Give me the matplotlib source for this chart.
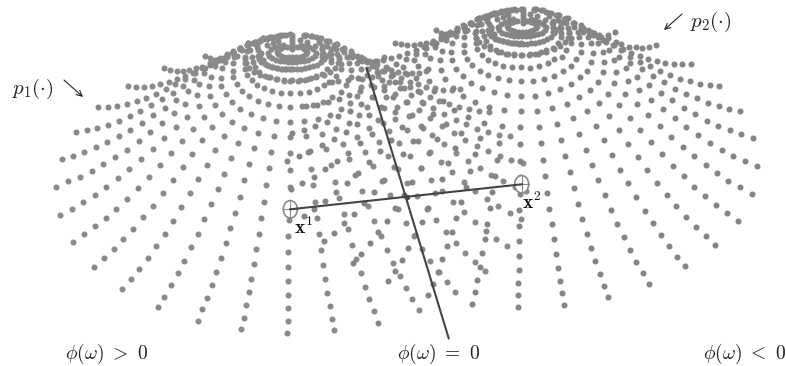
import numpy as np
import matplotlib
matplotlib.use('Agg')
import matplotlib.pyplot as plt
from matplotlib.patches import Ellipse

plt.rcParams['mathtext.fontset'] = 'cm'

# Dot positions, in image pixels.
# The two domes are the same shape shifted, so the left half is read from p1
# (where it is clear of the overlap) and the right half from p2.
ray_l0 = [(287.3,332.7),(287.7,320.7),(287.7,308.3),(288,295.3),(288,281.3),(288.3,267),(288.3,251.7),(288.3,236),(289,219.7),(289.5,203),(289.5,186.5),(289.5,170),(289.5,153),(290,137),(290,122),(290,107),(290,93),(290,81),(290.5,69)]
ray_l1 = [(241.3,329.3),(244,317.7),(246.3,305.3),(249,292.3),(251.3,279),(254,264.3),(256.3,249.3),(259,233.7),(261.3,217.7),(264,201.7),(266.3,185.3),(268.7,168.3),(271,151.7),(273.7,135.7),(276,120.7),(278.7,106),(281,92.7),(283.7,80.7),(286,69)]
ray_l2 = [(197.7,320.7),(202.3,309.3),(207,297.7),(211.7,285),(216.3,271.7),(221,258),(225.7,243.3),(230.3,228),(235,212.7),(239.7,196.7),(244.3,180),(249,164),(253.7,148.3),(258.3,133),(263,118),(267.7,104),(272.3,91.3),(277,79.3),(282,68.5)]
ray_l3 = [(157.7,307),(164,296.7),(171,285.3),(177.7,273.3),(184.3,260.7),(191,247.3),(197.7,233.7),(204.3,219),(211,204.3),(217.7,189),(224,173.7),(230.7,158.3),(237.7,142.7),(244.3,128),(251,114),(257.7,100.7),(264.3,88.3),(270.3,77.3),(277,67.5)]
ray_l4 = [(122.3,288.7),(130.7,279.3),(139.3,269),(147.7,258),(156,246.3),(164.7,234),(173,221),(181.3,207.3),(190,193.3),(198.3,179),(206.7,164.7),(215,150),(223.7,135.7),(232,122),(240.3,108.7),(249,96.3),(257,85.3),(265,76),(272,66.7)]
ray_l5 = [(93.7,266.7),(103.7,258.3),(113.7,249),(123.3,239.3),(133.3,228.7),(143.3,217.3),(153,205.7),(163,193),(172.7,180),(182.7,166.7),(192.3,153.7),(202.3,140),(212.3,126.7),(222,114),(232,102),(241.7,90.7),(251.7,80.3),(259.3,71.7),(266.7,65)]
ray_l6 = [(73,241.7),(83.7,234.3),(94.7,226.3),(105.7,218),(116.3,208.7),(127.3,198.7),(138.3,188),(149,177),(160,165.3),(171,153),(181.7,141),(192.7,128.7),(203.7,116.7),(214.7,105),(225.7,94.3),(236.7,84.3),(246.7,75),(255,66.7),(263,60)]
ray_l7 = [(60,214.7),(71.7,208.7),(83.3,202.3),(94.7,195),(106.3,187),(117.7,178.3),(129.3,169),(141,159.3),(152.7,149),(164,138),(175.7,127.3),(187,116.7),(198.7,106.3),(210,95.7),(221,86),(233.3,77.3),(245,69),(253.3,61.7),(260,55)]
ray_l8 = [(56.3,186.7),(68,181.3),(79.7,177),(91.7,171),(103.3,164.3),(115,157.3),(126.7,149.7),(138.7,141),(150.3,132.3),(162,122.7),(173.7,113.3),(185.3,104),(197,94.7),(209,85.7),(220.7,78),(233.3,71),(245,63.3),(251.7,56.7),(258.3,50)]
ray_l9 = [(61.7,158.7),(73,155.7),(84.3,151.7),(96,147.3),(107.3,142),(119,136.3),(130.3,130),(142,122.7),(153.3,115.3),(164.7,107.7),(176.3,100),(187.7,91.3),(199.3,83.7),(211,76.7),(221.7,68.3),(233.3,62.7),(245,56.7),(250,50),(256.7,45)]
ray_l10 = [(75.7,132),(86.7,130.3),(97.3,127.7),(108,124.7),(118.7,121),(129.7,116.3),(140.3,111),(151,105.3),(162,99.3),(172.7,93),(183.3,86),(194,80),(204,72.7),(215,66),(225,61.7),(234.3,56.7),(241.7,50),(248.3,45),(255,41.7)]
ray_l11 = [(98,107.3),(107.7,106.7),(117.3,105.7),(127,104),(136.7,101),(146.3,98),(156,94),(165.7,89.3),(175,84.3),(185,79.3),(195,73.3),(205,68.3),(215,62.7),(223.3,58.3),(233.3,53.3),(240,48.3),(248.3,43.3),(256.7,41.7),(263.3,38.3)]
ray_l12 = [(128,86),(136,86.7),(144.3,86.7),(152.3,85.7),(160.3,84),(168.7,81.7),(176.7,78.7),(185,76),(193.3,72.7),(201.7,68.3),(210,65),(218.3,60),(226.7,55),(233.3,51.7),(240,48.3),(248.3,43.3),(255,41.7),(263.3,38.3),(270,36.7)]
ray_l13 = [(164,68.3),(170.3,70),(176.7,70.7),(183,71),(189.3,70),(195.7,68.3),(202,66.7),(210,62.7),(216.7,60),(226.7,56.7),(233.3,51.7),(240,49.3),(246.7,45),(253.3,42.7),(260,40),(266.7,38.3),(273.3,36.7),(280,36)]
ray_l14 = [(205,55.7),(210,58.3),(215,60),(220,60),(226.7,55),(233.3,51.7),(240,48.3),(248.3,45),(255,42.7),(263.3,39.3),(270,37.3),(276.7,35.7),(283.3,34.7),(290,34.3)]
left_rays = [ray_l0, ray_l1, ray_l2, ray_l3, ray_l4, ray_l5, ray_l6, ray_l7, ray_l8, ray_l9, ray_l10, ray_l11, ray_l12, ray_l13, ray_l14]

ray_r1 = [(564,304.7),(562,293),(560,280.7),(557.7,267.7),(555.7,253.7),(553.7,239.3),(551.7,224.3),(549.3,208.7),(547.3,192.7),(545,176),(543,159.7),(541,143),(538.7,126.7),(536.7,110.7),(534.7,95.7),(532.7,80.7),(530.3,67.7),(528.7,55.3)]
ray_r2 = [(608.3,297),(604,285.7),(599.7,273.7),(595.3,261),(591,247.7),(586.7,233.7),(582.3,219),(578,203.7),(574,188),(569.7,172),(565.3,156),(561,139.7),(556.7,123.7),(552.3,108),(548,93.3),(543.7,79),(539.3,66),(535,54.3)]
ray_r3 = [(649.3,284),(642.7,273.3),(636.3,262),(630,250),(623.7,237.3),(617.3,224),(611,210),(604.7,195.3),(598.3,180),(592,165),(585.7,149.7),(579.3,133.7),(573,118.3),(566.7,103.7),(560.3,89),(553.7,76),(547.7,63),(541,52.3)]
ray_r4 = [(685.3,266.3),(677.3,256.7),(669,246.3),(660.7,235),(652.7,223),(644.7,210.7),(636.3,197.3),(628.3,183),(620,169.7),(612,155.3),(603.7,140.3),(595.7,126),(587.3,111.3),(579.3,97),(571,83.7),(562.7,71),(554.3,59.3),(546,50)]
ray_r5 = [(715.3,245),(705.7,236.3),(695.7,227),(686,217),(676.3,206.3),(666.7,194.7),(657,183),(647.3,170),(637.7,157),(628.3,143.7),(618.7,130),(609,116.3),(599,102.7),(589.7,89.7),(580.3,77.3),(571,66),(562,56.7),(552.7,48.3)]
ray_r6 = [(737.7,220.7),(726.7,213),(716,205),(705.3,196),(694.3,186.7),(683.7,176.3),(672.7,165.7),(661.7,154),(651,142.3),(640.3,130),(629.7,117.7),(619,105.3),(608.3,94),(597.7,81.7),(587,70.7),(576,59.3),(566,50),(557.7,43.3)]
ray_r7 = [(751.7,193.7),(740,187.3),(728.3,180.7),(717,173),(705.7,165),(694,156),(682.7,146.7),(671.3,136.7),(660,126.3),(648.3,115.3),(637,104.3),(625.3,93.7),(614,82.7),(602.7,71.7),(591,61.7),(581,51.7),(571,43.3),(561,36.7),(552.7,31.7)]
ray_r8 = [(756.7,165.7),(745,161),(733.3,155.7),(721.7,149.7),(710,142.7),(698,135.3),(686.3,127),(674.7,118.3),(662.7,109.3),(651,100),(639.3,90),(627.7,81),(616,71.7),(604.3,61.7),(592.7,53.3),(581,44.3),(571,38.3),(561,33.3),(552.7,28.3)]
ray_r9 = [(753,137.7),(741.3,134.3),(730,130.3),(718.3,125.7),(707.3,120.7),(695.3,114.3),(684,107.7),(672.3,100.3),(660.7,92.7),(649.3,84.7),(637,76.7),(625.7,68),(614.3,60.3),(602.7,51.7),(591,43.3),(579.3,37.3),(569.3,31.7),(561,28.3),(552.7,23.3)]
ray_r10 = [(740.3,110.7),(729.3,109),(718.7,106),(707.7,103),(696.7,98.3),(686,94),(674.7,88.7),(663.7,82.3),(652.7,76),(641.7,69.3),(630.3,62.7),(619.3,56.7),(608.7,50),(598,43.3),(587.7,37.3),(577.7,31.7),(567.7,28.3),(561,23.3),(552.7,20.7)]
ray_r11 = [(719.3,86),(709.7,85),(699.7,83.7),(689.7,81.3),(679.7,78.7),(669.7,75),(660,71),(650,66),(640,61.7),(630.3,56.7),(621,50),(612.7,45),(602.7,40),(592.7,35),(582.7,31.7),(574.3,26.7),(566,23.3),(557.7,20),(549.3,16)]
ray_r12 = [(690.7,63.7),(682.3,64),(673.7,64),(665.3,62.7),(656.7,61),(648.3,58.7),(640,56),(631.3,52.7),(622.7,49.3),(614.3,45),(606,41.7),(597.7,36.7),(589.3,32.3),(581,28.3),(572.7,23.3),(564.3,19.3),(556,15),(546,11.7),(536,9.3)]
ray_r13 = [(656,45.3),(649.3,47),(642.3,47.7),(635.7,47.3),(628.7,46.7),(621,44),(616,41.7),(607.7,38.3),(599.3,35),(591,31.7),(582.7,28.3),(574.3,23.3),(566,18.3),(557.7,15),(549.3,12.7),(541,10),(534.3,9.3)]
ray_r14 = [(614.7,31.7),(607.7,35),(601,36.7),(594.3,33.3),(587.7,30),(581,25),(574.3,22.7),(567.7,18.3),(559.3,15),(551,12.7),(542.7,10),(534.3,10)]
right_rays = [ray_r1, ray_r2, ray_r3, ray_r4, ray_r5, ray_r6, ray_r7, ray_r8, ray_r9, ray_r10, ray_r11, ray_r12, ray_r13, ray_r14]

# inner rings, crest and the top spike, read at p2
ring_e = [(475,33),(476,37.5),(479,42),(484,46),(490,49),(498,51.5),(506,53.5),(514,54.3),(522,54.5),(530,54.3),(538,53.5),(546,51.5),(554,49),(560,46),(565,42),(568,37.5),(569,33)]
ring_d = [(488,30),(489,33),(491,36),(495,38.5),(499,40),(503,41),(507,42),(511,42.8),(515,43.3),(519,43.5),(523,43.5),(527,43.5),(531,43.2),(535,42.6),(539,41.7),(543,40.5),(547,39),(551,36.5),(554,33),(556,30),(553,27),(491,27)]
ring_c = [(498,27),(499,30),(502,32.5),(506,34),(510,35),(514,35.7),(518,36),(522,36),(526,36),(530,35.7),(534,35),(538,34),(542,32.5),(545,30),(546,27),(543,23.5),(539,21.5),(535,20),(531,19),(513,19),(509,20),(505,21.5),(501,23.5)]
ring_b = [(507,26),(508,28),(511,30),(514,31),(518,31.5),(522,31.5),(526,31.5),(530,31),(533,30),(536,28),(537,26),(534,23),(531,21.5),(527,21),(517,21),(513,21.5),(510,23)]
spike = [(522.5,9),(522.5,12),(522.5,15),(522.5,18),(522.5,21),(522.5,23)]
crest_upper = [(450,32),(457,28),(463,25),(470,23),(477,19),(483,17),(490,15),(497,13),(503,12),(510,9.5),(516,9.5)]
crest_lower = [(467,30),(477,25),(487,21),(497,19),(503,17),(508,15),(530,14),(537,16),(545,20),(552,23),(560,27)]
inner_rings = [ring_e, ring_d, ring_c, ring_b, spike, crest_upper, crest_lower]

shift_x, shift_y = 230.5, -25.7

x1 = (290.3, 209.3)
x2 = (521.7, 184.3)
x_mid = (407, 197)
boundary_x = [366.5, 448.7]
boundary_y = [68, 338.3]

left = np.array([p for r in left_rays for p in r])
right = np.array([p for r in right_rays for p in r])
rings = np.array([p for r in inner_rings for p in r])
dome2 = np.vstack([left + [shift_x, shift_y], right, rings])
dome1 = np.vstack([left, right - [shift_x, shift_y], rings - [shift_x, shift_y]])

fig = plt.figure(figsize=(7.86, 3.66), dpi=100)
ax = fig.add_axes([0, 0, 1, 1])
ax.set_xlim(0, 786)
ax.set_ylim(366, 0)
ax.axis('off')

ax.scatter(dome1[:, 0], dome1[:, 1], s=19, c='#8a8a8a', linewidths=0, zorder=2)
ax.scatter(dome2[:, 0], dome2[:, 1], s=19, c='#858585', linewidths=0, zorder=2)

# the two means, with the line between them and the boundary
for c in (x1, x2):
    ax.add_patch(Ellipse(c, 14, 17.5, fc='white', ec='#8a8a8a', lw=1.2, zorder=3))
    ax.plot([c[0]-7, c[0]+7], [c[1], c[1]], color='#8a8a8a', lw=0.8, zorder=3)
    ax.plot([c[0], c[0]], [c[1]-8.5, c[1]+8.5], color='#8a8a8a', lw=0.8, zorder=3)
ax.plot([x1[0], x2[0]], [x1[1], x2[1]], color='#444444', lw=1.5, zorder=4)
ax.plot(boundary_x, boundary_y, color='#444444', lw=1.5, zorder=4)
ax.scatter([x_mid[0]], [x_mid[1]], s=15, c='#444444', linewidths=0, zorder=5)

ts = 14
ax.text(294, 227, r'$\mathbf{x}^1$', fontsize=ts, va='center', color='#111111', zorder=6)
ax.text(522, 202, r'$\mathbf{x}^2$', fontsize=ts, va='center', color='#111111', zorder=6)
ax.text(12, 89, r'$p_1(\cdot)$', fontsize=15, va='center', color='#222222')
ax.text(690, 22, r'$p_2(\cdot)$', fontsize=15, va='center', color='#222222')
ax.annotate('', xy=(83, 97), xytext=(64, 80), arrowprops=dict(arrowstyle='->', lw=0.8, color='#222222', shrinkA=0, shrinkB=0))
ax.annotate('', xy=(664, 30), xytext=(682, 14), arrowprops=dict(arrowstyle='->', lw=0.8, color='#222222', shrinkA=0, shrinkB=0))
ax.text(65, 354, r'$\phi(\omega)\ >\ 0$', fontsize=ts, va='center', color='#222222')
ax.text(397, 354, r'$\phi(\omega)\ =\ 0$', fontsize=ts, va='center', color='#222222')
ax.text(703, 354, r'$\phi(\omega)\ <\ 0$', fontsize=ts, va='center', color='#222222')

fig.savefig('out.png', dpi=100)
